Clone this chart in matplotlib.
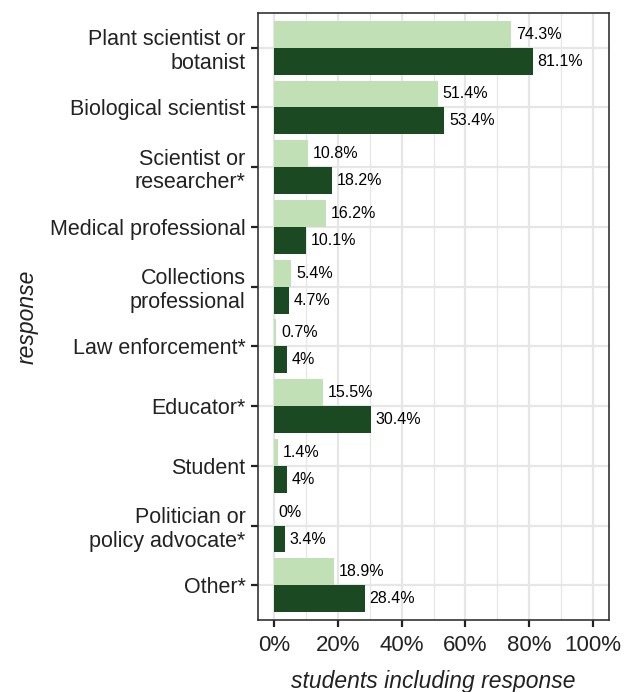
import matplotlib
matplotlib.use("Agg")
import matplotlib.pyplot as plt
import numpy as np

plt.rcParams['font.family'] = ['Liberation Sans', 'DejaVu Sans']

categories = ["Plant scientist or\nbotanist", "Biological scientist", "Scientist or\nresearcher*",
              "Medical professional", "Collections\nprofessional", "Law enforcement*",
              "Educator*", "Student", "Politician or\npolicy advocate*", "Other*"]
light_vals = [74.3, 51.4, 10.8, 16.2, 5.4, 0.7, 15.5, 1.4, 0, 18.9]
dark_vals = [81.1, 53.4, 18.2, 10.1, 4.7, 4, 30.4, 4, 3.4, 28.4]
light_labels = ["74.3%", "51.4%", "10.8%", "16.2%", "5.4%", "0.7%", "15.5%", "1.4%", "0%", "18.9%"]
dark_labels = ["81.1%", "53.4%", "18.2%", "10.1%", "4.7%", "4%", "30.4%", "4%", "3.4%", "28.4%"]
xticks = [0, 20, 40, 60, 80, 100]
xticklabels = ["0%", "20%", "40%", "60%", "80%", "100%"]

light_color = "#c2e0b5"
dark_color = "#1b4a22"

fig = plt.figure(figsize=(6.3, 6.92), dpi=100)
ax = fig.add_axes([258/630, 1-620/692, (609-258)/630, (620-13)/692])

n = len(categories)
y = np.arange(n)
h = 0.45
ax.barh(y - h/2, light_vals, height=h, color=light_color, zorder=3)
ax.barh(y + h/2, dark_vals, height=h, color=dark_color, zorder=3)
for i in range(n):
    ax.text(light_vals[i] + 1.5, y[i] - h/2, light_labels[i], va='center', ha='left', fontsize=11.5, color='black', zorder=4)
    ax.text(dark_vals[i] + 1.5, y[i] + h/2, dark_labels[i], va='center', ha='left', fontsize=11.5, color='black', zorder=4)

ax.set_xlim(-5, 105)
ax.set_ylim(n - 1 + 0.58, -0.58)
ax.set_yticks(y)
ax.set_yticklabels(categories, fontsize=15.5, color='#222222', linespacing=1.15)
ax.set_xticks(xticks)
ax.set_xticklabels(xticklabels, fontsize=16, color='#222222')
ax.set_xticks([10, 30, 50, 70, 90], minor=True)
ax.tick_params(axis='both', which='major', length=5, width=1.6, color='#222222', pad=4)
ax.tick_params(axis='x', which='major', pad=6)
ax.tick_params(axis='x', which='minor', length=0)
ax.grid(True, which='major', axis='both', color='#e6e6e6', linewidth=1.6, zorder=0)
ax.grid(True, which='minor', axis='x', color='#e6e6e6', linewidth=0.9, zorder=0)
ax.set_axisbelow(True)
for s in ax.spines.values():
    s.set_color('#333333')
    s.set_linewidth(1.2)

ax.set_ylabel("response", fontsize=16.5, style='italic', color='#222222', labelpad=8)
ax.set_xlabel("students including response", fontsize=16.5, style='italic', color='#222222', labelpad=10)

fig.savefig("out.png", dpi=100)
